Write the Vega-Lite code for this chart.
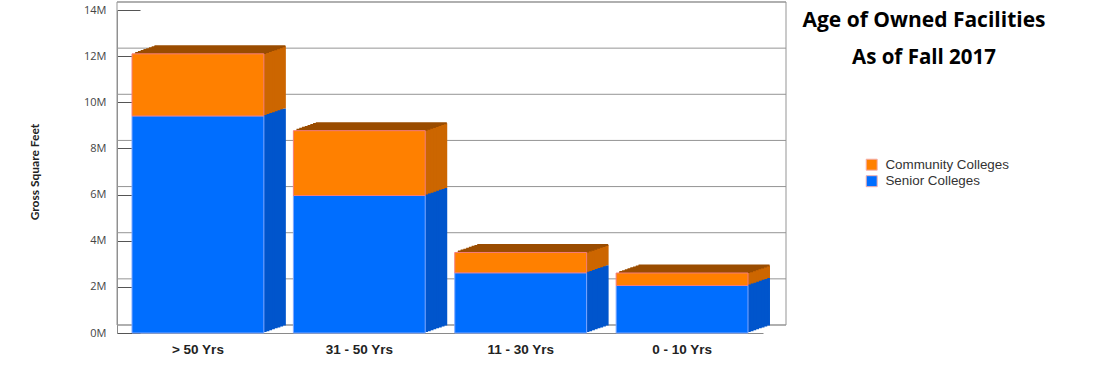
{
  "$schema": "https://vega.github.io/schema/vega-lite/v6.json",
  "width": 646,
  "height": 323,
  "autosize": "none",
  "padding": {"left": 117, "top": 10, "right": 337, "bottom": 37},
  "background": "white",
  "title": {
    "text": "Age of Owned Facilities",
    "subtitle": "As of Fall 2017",
    "orient": "top",
    "anchor": "start",
    "frame": "group",
    "align": "center",
    "dx": 807,
    "dy": 71,
    "font": "Open Sans",
    "fontSize": 21,
    "fontWeight": "bold",
    "color": "#000000",
    "subtitleFont": "Open Sans",
    "subtitleFontSize": 20.5,
    "subtitleFontWeight": "bold",
    "subtitleColor": "#000000",
    "subtitlePadding": 17.5
  },
  "datasets": {
    "facilities": [
      {"age": "> 50 Yrs", "group": "Senior Colleges", "gsf": 9410000},
      {"age": "> 50 Yrs", "group": "Community Colleges", "gsf": 2690000},
      {"age": "31 - 50 Yrs", "group": "Senior Colleges", "gsf": 5960000},
      {"age": "31 - 50 Yrs", "group": "Community Colleges", "gsf": 2810000},
      {"age": "11 - 30 Yrs", "group": "Senior Colleges", "gsf": 2610000},
      {"age": "11 - 30 Yrs", "group": "Community Colleges", "gsf": 880000},
      {"age": "0 - 10 Yrs", "group": "Senior Colleges", "gsf": 2060000},
      {"age": "0 - 10 Yrs", "group": "Community Colleges", "gsf": 540000}
    ],
    "grid": [
      {"gsf": 0}, {"gsf": 2000000}, {"gsf": 4000000}, {"gsf": 6000000},
      {"gsf": 8000000}, {"gsf": 10000000}, {"gsf": 12000000}, {"gsf": 14000000}
    ]
  },
  "data": {"name": "facilities"},
  "layer": [
    {
      "data": {"name": "grid"},
      "mark": {"type": "rule", "color": "#959595", "strokeWidth": 1, "xOffset": 23, "x2Offset": 23, "yOffset": -8},
      "encoding": {"y": {"field": "gsf", "type": "quantitative", "title": "Gross Square Feet"}}
    },
    {
      "data": {"name": "grid"},
      "mark": {"type": "rect", "filled": false, "stroke": "#959595", "strokeWidth": 1, "xOffset": 23, "x2Offset": 23, "yOffset": -8, "y2Offset": -8},
      "encoding": {
        "y": {"aggregate": "min", "field": "gsf", "type": "quantitative", "title": "Gross Square Feet"},
        "y2": {"aggregate": "max", "field": "gsf"}
      }
    },
    {
      "mark": {"type": "bar", "xOffset": 22, "yOffset": -7.5},
      "encoding": {
        "x": {"field": "age", "type": "nominal", "sort": ["> 50 Yrs", "31 - 50 Yrs", "11 - 30 Yrs", "0 - 10 Yrs"]},
        "y": {"field": "gsf", "type": "quantitative", "title": "Gross Square Feet"},
        "fill": {"field": "group", "type": "nominal", "scale": {"domain": ["Senior Colleges", "Community Colleges"], "range": ["#0055cc", "#cc6600"]}, "legend": null},
        "order": {"field": "group", "sort": "descending"}
      }
    },
    {
      "mark": {"type": "tick", "xOffset": 22, "yOffset": -7.5, "color": "#9a4c00", "thickness": 2, "size": 131, "opacity": 1},
      "encoding": {
        "x": {"field": "age", "type": "nominal", "sort": ["> 50 Yrs", "31 - 50 Yrs", "11 - 30 Yrs", "0 - 10 Yrs"]},
        "y": {"aggregate": "sum", "field": "gsf", "type": "quantitative", "title": "Gross Square Feet"}
      }
    },
    {
      "mark": {"type": "bar", "xOffset": 19.25, "yOffset": -6.5625},
      "encoding": {
        "x": {"field": "age", "type": "nominal", "sort": ["> 50 Yrs", "31 - 50 Yrs", "11 - 30 Yrs", "0 - 10 Yrs"]},
        "y": {"field": "gsf", "type": "quantitative", "title": "Gross Square Feet"},
        "fill": {"field": "group", "type": "nominal", "legend": null},
        "order": {"field": "group", "sort": "descending"}
      }
    },
    {
      "mark": {"type": "tick", "xOffset": 19.25, "yOffset": -6.5625, "color": "#9a4c00", "thickness": 2, "size": 131, "opacity": 1},
      "encoding": {
        "x": {"field": "age", "type": "nominal", "sort": ["> 50 Yrs", "31 - 50 Yrs", "11 - 30 Yrs", "0 - 10 Yrs"]},
        "y": {"aggregate": "sum", "field": "gsf", "type": "quantitative", "title": "Gross Square Feet"}
      }
    },
    {
      "mark": {"type": "bar", "xOffset": 16.5, "yOffset": -5.625},
      "encoding": {
        "x": {"field": "age", "type": "nominal", "sort": ["> 50 Yrs", "31 - 50 Yrs", "11 - 30 Yrs", "0 - 10 Yrs"]},
        "y": {"field": "gsf", "type": "quantitative", "title": "Gross Square Feet"},
        "fill": {"field": "group", "type": "nominal", "legend": null},
        "order": {"field": "group", "sort": "descending"}
      }
    },
    {
      "mark": {"type": "tick", "xOffset": 16.5, "yOffset": -5.625, "color": "#9a4c00", "thickness": 2, "size": 131, "opacity": 1},
      "encoding": {
        "x": {"field": "age", "type": "nominal", "sort": ["> 50 Yrs", "31 - 50 Yrs", "11 - 30 Yrs", "0 - 10 Yrs"]},
        "y": {"aggregate": "sum", "field": "gsf", "type": "quantitative", "title": "Gross Square Feet"}
      }
    },
    {
      "mark": {"type": "bar", "xOffset": 13.75, "yOffset": -4.6875},
      "encoding": {
        "x": {"field": "age", "type": "nominal", "sort": ["> 50 Yrs", "31 - 50 Yrs", "11 - 30 Yrs", "0 - 10 Yrs"]},
        "y": {"field": "gsf", "type": "quantitative", "title": "Gross Square Feet"},
        "fill": {"field": "group", "type": "nominal", "legend": null},
        "order": {"field": "group", "sort": "descending"}
      }
    },
    {
      "mark": {"type": "tick", "xOffset": 13.75, "yOffset": -4.6875, "color": "#9a4c00", "thickness": 2, "size": 131, "opacity": 1},
      "encoding": {
        "x": {"field": "age", "type": "nominal", "sort": ["> 50 Yrs", "31 - 50 Yrs", "11 - 30 Yrs", "0 - 10 Yrs"]},
        "y": {"aggregate": "sum", "field": "gsf", "type": "quantitative", "title": "Gross Square Feet"}
      }
    },
    {
      "mark": {"type": "bar", "xOffset": 11, "yOffset": -3.75},
      "encoding": {
        "x": {"field": "age", "type": "nominal", "sort": ["> 50 Yrs", "31 - 50 Yrs", "11 - 30 Yrs", "0 - 10 Yrs"]},
        "y": {"field": "gsf", "type": "quantitative", "title": "Gross Square Feet"},
        "fill": {"field": "group", "type": "nominal", "legend": null},
        "order": {"field": "group", "sort": "descending"}
      }
    },
    {
      "mark": {"type": "tick", "xOffset": 11, "yOffset": -3.75, "color": "#9a4c00", "thickness": 2, "size": 131, "opacity": 1},
      "encoding": {
        "x": {"field": "age", "type": "nominal", "sort": ["> 50 Yrs", "31 - 50 Yrs", "11 - 30 Yrs", "0 - 10 Yrs"]},
        "y": {"aggregate": "sum", "field": "gsf", "type": "quantitative", "title": "Gross Square Feet"}
      }
    },
    {
      "mark": {"type": "bar", "xOffset": 8.25, "yOffset": -2.8125},
      "encoding": {
        "x": {"field": "age", "type": "nominal", "sort": ["> 50 Yrs", "31 - 50 Yrs", "11 - 30 Yrs", "0 - 10 Yrs"]},
        "y": {"field": "gsf", "type": "quantitative", "title": "Gross Square Feet"},
        "fill": {"field": "group", "type": "nominal", "legend": null},
        "order": {"field": "group", "sort": "descending"}
      }
    },
    {
      "mark": {"type": "tick", "xOffset": 8.25, "yOffset": -2.8125, "color": "#9a4c00", "thickness": 2, "size": 131, "opacity": 1},
      "encoding": {
        "x": {"field": "age", "type": "nominal", "sort": ["> 50 Yrs", "31 - 50 Yrs", "11 - 30 Yrs", "0 - 10 Yrs"]},
        "y": {"aggregate": "sum", "field": "gsf", "type": "quantitative", "title": "Gross Square Feet"}
      }
    },
    {
      "mark": {"type": "bar", "xOffset": 5.5, "yOffset": -1.875},
      "encoding": {
        "x": {"field": "age", "type": "nominal", "sort": ["> 50 Yrs", "31 - 50 Yrs", "11 - 30 Yrs", "0 - 10 Yrs"]},
        "y": {"field": "gsf", "type": "quantitative", "title": "Gross Square Feet"},
        "fill": {"field": "group", "type": "nominal", "legend": null},
        "order": {"field": "group", "sort": "descending"}
      }
    },
    {
      "mark": {"type": "tick", "xOffset": 5.5, "yOffset": -1.875, "color": "#9a4c00", "thickness": 2, "size": 131, "opacity": 1},
      "encoding": {
        "x": {"field": "age", "type": "nominal", "sort": ["> 50 Yrs", "31 - 50 Yrs", "11 - 30 Yrs", "0 - 10 Yrs"]},
        "y": {"aggregate": "sum", "field": "gsf", "type": "quantitative", "title": "Gross Square Feet"}
      }
    },
    {
      "mark": {"type": "bar", "xOffset": 2.75, "yOffset": -0.9375},
      "encoding": {
        "x": {"field": "age", "type": "nominal", "sort": ["> 50 Yrs", "31 - 50 Yrs", "11 - 30 Yrs", "0 - 10 Yrs"]},
        "y": {"field": "gsf", "type": "quantitative", "title": "Gross Square Feet"},
        "fill": {"field": "group", "type": "nominal", "legend": null},
        "order": {"field": "group", "sort": "descending"}
      }
    },
    {
      "mark": {"type": "tick", "xOffset": 2.75, "yOffset": -0.9375, "color": "#9a4c00", "thickness": 2, "size": 131, "opacity": 1},
      "encoding": {
        "x": {"field": "age", "type": "nominal", "sort": ["> 50 Yrs", "31 - 50 Yrs", "11 - 30 Yrs", "0 - 10 Yrs"]},
        "y": {"aggregate": "sum", "field": "gsf", "type": "quantitative", "title": "Gross Square Feet"}
      }
    },
    {
      "mark": {"type": "bar", "strokeWidth": 1},
      "encoding": {
        "x": {
          "field": "age", "type": "nominal",
          "sort": ["> 50 Yrs", "31 - 50 Yrs", "11 - 30 Yrs", "0 - 10 Yrs"],
          "title": null,
          "scale": {"paddingInner": 0.183, "paddingOuter": 0.093},
          "axis": {
            "labelAngle": 0, "labelAlign": "center", "ticks": false, "labelPadding": 16, "domainColor": "#8a8a8a",
            "labelFont": "Liberation Sans", "labelFontSize": 13.5, "labelFontWeight": "bold", "labelColor": "#222222"
          }
        },
        "y": {
          "field": "gsf", "type": "quantitative",
          "title": "Gross Square Feet",
          "scale": {"domain": [0, 14000000], "nice": false},
          "axis": {
            "values": [0, 2000000, 4000000, 6000000, 8000000, 10000000, 12000000, 14000000],
            "labelExpr": "datum.value / 1000000 + 'M'",
            "grid": false,
            "domainColor": "#8a8a8a",
            "tickColor": "#555555",
            "tickSize": -23,
            "labelPadding": 34,
            "labelFont": "Open Sans", "labelFontSize": 11, "labelColor": "#444444",
            "titleFont": "Lato", "titleFontSize": 12, "titleFontWeight": "bold", "titleColor": "#222222",
            "titlePadding": 42
          }
        },
        "color": {
          "field": "group", "type": "nominal",
          "scale": {"domain": ["Community Colleges", "Senior Colleges"], "range": ["#ff8000", "#006eff"]},
          "legend": {
            "orient": "none", "legendX": 748, "legendY": 148, "title": null,
            "symbolType": "square", "symbolSize": 121, "symbolStrokeColor": "#f4b0b0", "symbolStrokeWidth": 1,
            "labelFont": "Liberation Sans", "labelFontSize": 13.4, "labelColor": "#333333",
            "labelOffset": 7, "rowPadding": 0.5, "padding": 0
          }
        },
        "stroke": {
          "field": "group", "type": "nominal",
          "scale": {"domain": ["Senior Colleges", "Community Colleges"], "range": ["#7fa8ff", "#f47c7c"]},
          "legend": null
        },
        "order": {"field": "group", "sort": "descending"}
      }
    }
  ],
  "config": {"view": {"stroke": null}}
}
